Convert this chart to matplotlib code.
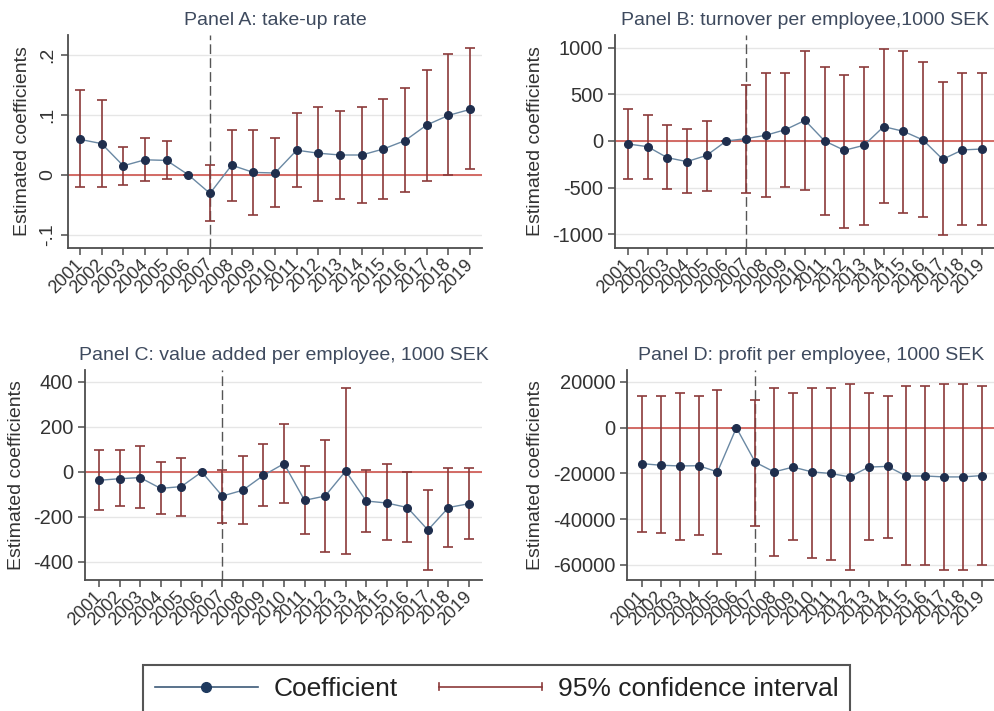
import numpy as np
import matplotlib.pyplot as plt
from matplotlib.lines import Line2D
from matplotlib.legend_handler import HandlerBase

plt.rcParams['font.family'] = ['Liberation Sans', 'DejaVu Sans']

# Data
years = list(range(2001, 2020))
year_labels = [str(y) for y in years]

# Panel A: take-up rate
a_coef = [0.059, 0.052, 0.015, 0.025, 0.024, 0.0, -0.031, 0.016, 0.004, 0.003,
          0.041, 0.036, 0.033, 0.033, 0.043, 0.057, 0.083, 0.099, 0.109]
a_lo = [-0.021, -0.021, -0.017, -0.011, -0.007, 0.0, -0.077, -0.043, -0.067, -0.054,
        -0.021, -0.043, -0.041, -0.047, -0.041, -0.029, -0.011, 0.000, 0.009]
a_hi = [0.141, 0.125, 0.047, 0.061, 0.057, 0.0, 0.017, 0.074, 0.074, 0.061,
        0.103, 0.113, 0.107, 0.113, 0.127, 0.144, 0.174, 0.201, 0.211]
a_ticks = [-0.1, 0, 0.1, 0.2]
a_ticklabels = ['-.1', '0', '.1', '.2']

# Panel B: turnover per employee
b_coef = [-32, -61, -179, -221, -154, 0, 25, 61, 121, 221,
          0, -100, -46, 154, 104, 11, -196, -96, -86]
b_lo = [-407, -407, -511, -557, -539, 0, -557, -604, -493, -521,
        -796, -929, -904, -668, -771, -818, -1011, -904, -904]
b_hi = [343, 275, 171, 132, 218, 0, 600, 732, 732, 968,
        793, 711, 793, 986, 968, 843, 629, 732, 732]
b_ticks = [-1000, -500, 0, 500, 1000]
b_ticklabels = ['-1000', '-500', '0', '500', '1000']

# Panel C: value added per employee
c_coef = [-37, -30, -25, -73, -65, 0, -107, -81, -15, 37,
          -126, -107, 4, -129, -138, -158, -258, -158, -141]
c_lo = [-170, -151, -161, -187, -197, 0, -225, -233, -153, -138,
        -277, -357, -366, -266, -303, -312, -437, -332, -296]
c_hi = [98, 98, 114, 44, 62, 0, 7, 71, 123, 212,
        25, 144, 372, 7, 34, 0, -81, 18, 18]
c_ticks = [-400, -200, 0, 200, 400]
c_ticklabels = ['-400', '-200', '0', '200', '400']

# Panel D: profit per employee
d_coef = [-15700, -16400, -16700, -16600, -19300, 0, -15100, -19300, -17200, -19300,
          -20000, -21500, -17200, -16900, -21100, -21100, -21500, -21500, -20900]
d_lo = [-45400, -46200, -49000, -47100, -55000, 0, -42900, -56000, -49000, -57000,
        -57600, -62000, -49000, -48000, -60200, -60200, -62000, -62000, -60200]
d_hi = [14000, 14000, 15000, 14000, 16600, 0, 12100, 17500, 15000, 17500,
        17500, 19300, 15000, 14000, 18300, 18300, 19300, 19300, 18300]
d_ticks = [-60000, -40000, -20000, 0, 20000]
d_ticklabels = ['-60000', '-40000', '-20000', '0', '20000']

# Colours
ci_c = '#8b3a3a'
zero_c = '#d0605a'
line_c = '#6a88a3'
mk_c = '#1f2e4d'
spine_c = '#4d4d4d'
title_c = '#3e4a5e'


def panel(ax, coef, lo, hi, title, ticks, ticklabels, xlim, ylim, rot_y=False):
    coef = np.array(coef, float)
    lo = np.array(lo, float)
    hi = np.array(hi, float)
    ax.axhline(0, color=zero_c, lw=1.3, zorder=1)
    ax.axvline(2007, color='#555555', lw=1.0, ls=(0, (7, 3)), zorder=1)
    ax.errorbar(years, coef, yerr=[coef - lo, hi - coef], fmt='none', ecolor=ci_c,
                elinewidth=1.2, capsize=3.6, capthick=1.2, zorder=2)
    ax.plot(years, coef, color=line_c, lw=1.0, marker='o', ms=5.5,
            mfc=mk_c, mec=mk_c, zorder=3)
    ax.set_xlim(*xlim)
    ax.set_ylim(*ylim)
    ax.set_yticks(ticks)
    if rot_y:
        ax.set_yticklabels(ticklabels, rotation=90, va='center', fontsize=14)
    else:
        ax.set_yticklabels(ticklabels, fontsize=14.5)
    ax.set_xticks(years)
    ax.set_xticklabels(year_labels, rotation=45, ha='right', va='center',
                       rotation_mode='anchor', fontsize=13)
    ax.yaxis.grid(True, color='#e6e6e6', lw=1)
    ax.set_axisbelow(True)
    for s in ['top', 'right']:
        ax.spines[s].set_visible(False)
    for s in ['left', 'bottom']:
        ax.spines[s].set_color(spine_c)
        ax.spines[s].set_linewidth(1.3)
    ax.tick_params(length=5, width=1.1, color=spine_c, labelcolor='#333333')
    ax.tick_params(axis='x', pad=5)
    ax.set_title(title, fontsize=14, color=title_c, pad=7)
    ax.set_ylabel('Estimated coefficients', fontsize=14, color='#333333', labelpad=6)


fig = plt.figure(figsize=(9.95, 7.11), dpi=100)
W, H = 995, 711


def add_axes(left, right, top, bottom):
    return fig.add_axes([left / W, 1 - bottom / H, (right - left) / W, (bottom - top) / H])


axA = add_axes(68, 482, 35, 248)
axB = add_axes(615, 995, 35, 248)
axC = add_axes(85, 482, 370, 580)
axD = add_axes(627, 995, 370, 580)

panel(axA, a_coef, a_lo, a_hi, 'Panel A: take-up rate', a_ticks, a_ticklabels,
      (2000.45, 2019.55), (-0.122, 0.233), rot_y=True)
panel(axB, b_coef, b_lo, b_hi, 'Panel B: turnover per employee,1000 SEK', b_ticks, b_ticklabels,
      (2000.34, 2019.66), (-1147, 1136))
panel(axC, c_coef, c_lo, c_hi, 'Panel C: value added per employee, 1000 SEK', c_ticks, c_ticklabels,
      (2000.32, 2019.63), (-480, 453))
panel(axD, d_coef, d_lo, d_hi, 'Panel D: profit per employee, 1000 SEK', d_ticks, d_ticklabels,
      (2000.21, 2019.69), (-66560, 25240))


class CIHandler(HandlerBase):
    def create_artists(self, legend, orig_handle, xdescent, ydescent, width, height,
                       fontsize, trans):
        y = height / 2 - ydescent
        x0, x1 = -xdescent, width - xdescent
        cap = height * 0.2
        arts = [Line2D([x0, x1], [y, y], color=ci_c, lw=1.2),
                Line2D([x0, x0], [y - cap, y + cap], color=ci_c, lw=1.2),
                Line2D([x1, x1], [y - cap, y + cap], color=ci_c, lw=1.2)]
        for a in arts:
            a.set_transform(trans)
        return arts


coef_handle = Line2D([], [], color='#3d5a78', lw=1.2, marker='o', ms=7,
                     mfc='#1f3a5f', mec='#1f3a5f')
ci_handle = Line2D([], [], color=ci_c)

leg = fig.legend([coef_handle, ci_handle], ['Coefficient', '95% confidence interval'],
                 handler_map={ci_handle: CIHandler()},
                 loc='upper left', bbox_to_anchor=(143 / W, 1 - 665 / H), ncol=2,
                 fontsize=19, frameon=True, fancybox=False, edgecolor='#555555',
                 borderpad=0.45, handlelength=3.9, handletextpad=0.6,
                 columnspacing=1.55, borderaxespad=0, numpoints=1)
leg.get_frame().set_linewidth(1.5)
leg.get_frame().set_alpha(1)
for t in leg.get_texts():
    t.set_color('#222222')

fig.savefig('out.png', dpi=100)
